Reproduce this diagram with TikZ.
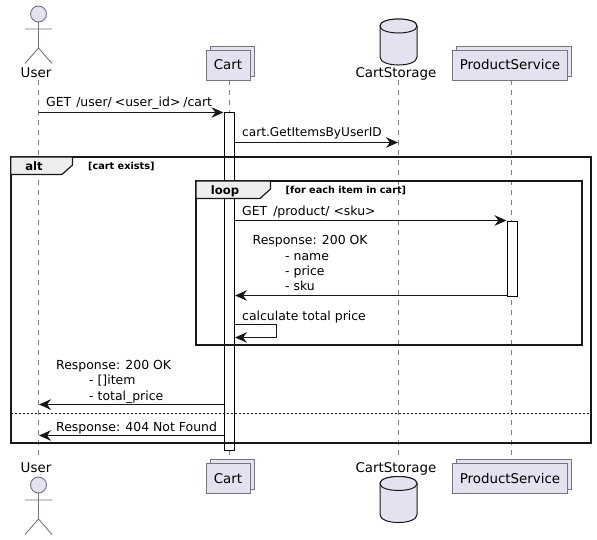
\documentclass[tikz,border=0pt]{standalone}
\usepackage{fontspec}
\setmainfont{DejaVu Sans}
\usetikzlibrary{arrows.meta,positioning}
\definecolor{partfill}{HTML}{E2E2F0}
\definecolor{partline}{HTML}{75757F}
\definecolor{lifegray}{HTML}{808080}
\definecolor{tabfill}{HTML}{EEEEEE}
\definecolor{ink}{HTML}{181818}
\tikzset{
  x=1pt,y=1pt,
  partbox/.style={draw=partline,fill=partfill,line width=.9pt,minimum height=30pt,inner sep=0pt,text=black,font=\fontsize{13.4}{15}\selectfont},
  lifeline/.style={draw=lifegray,line width=.7pt,dash pattern=on 5pt off 5pt},
  activation/.style={draw=black,fill=white,line width=.9pt,minimum width=10pt,inner sep=0pt},
  msg/.style={draw=ink,line width=.9pt,-{Stealth[length=12pt,width=10.5pt,inset=4pt]}},
  framebox/.style={draw=ink,line width=1.9pt},
  tab/.style={draw=ink,fill=tabfill,line width=1.2pt},
  msgtext/.style={anchor=base west,inner sep=0pt,font=\fontsize{12.45}{14}\selectfont},
  nametext/.style={anchor=base,inner sep=0pt,font=\fontsize{13.4}{15}\selectfont},
  guardtext/.style={anchor=base west,inner sep=0pt,font=\fontsize{9.7}{12}\selectfont\bfseries},
  tabtext/.style={anchor=base,inner sep=0pt,font=\fontsize{11.6}{14}\selectfont\bfseries},
  stick/.style={draw=partline,line width=.9pt},
  dbshape/.style={draw=ink,fill=partfill,line width=1pt},
}
\newcommand{\stickman}[1]{%
  \begin{scope}[shift={(38.5,#1)}]
    \draw[stick,fill=partfill] (0,0) circle (8);
    \draw[stick] (0,-8) -- (0,-34) (-13.5,-15) -- (13.5,-15) (-13.5,-49.5) -- (0,-34) -- (13.5,-49.5);
  \end{scope}}
\newcommand{\dbcyl}[1]{%
  \begin{scope}[shift={(398.5,#1)}]
    \draw[dbshape] (-18.5,-11) .. controls (-18.5,-1.7) and (18.5,-1.7) .. (18.5,-11) -- (18.5,-42) .. controls (18.5,-52.7) and (-18.5,-52.7) .. (-18.5,-42) -- cycle;
    \draw[dbshape] (-18.5,-11) .. controls (-18.5,-1.7) and (18.5,-1.7) .. (18.5,-11) .. controls (18.5,-20.3) and (-18.5,-20.3) .. (-18.5,-11);
  \end{scope}}
\begin{document}
\begin{tikzpicture}
\useasboundingbox (0,0) rectangle (597,-540);
\fill[white] (0,0) rectangle (597,-540);

% participant anchors
\coordinate (utop) at (38.5,-80);   \coordinate (ubot) at (38.5,-457);
\coordinate (ctop) at (229.3,-80);  \coordinate (cbot) at (229.3,-460);
\coordinate (stop) at (398.4,-80);  \coordinate (sbot) at (398.4,-457);
\coordinate (ptop) at (511.3,-80);  \coordinate (pbot) at (511.3,-458);

% lifelines
\draw[lifeline] (utop) -- (ubot);
\draw[lifeline] (ctop) -- (cbot);
\draw[lifeline] (stop) -- (sbot);
\draw[lifeline] (ptop) -- (pbot);

% actors, top and bottom
\stickman{-14}
\stickman{-485}
\node[nametext] (userT) at (36,-78) {User};
\node[nametext] (userB) at (36,-472.5) {User};

% databases
\dbcyl{-15}
\dbcyl{-472.5}
\node[nametext] (storeT) at (396,-78) {CartStorage};
\node[nametext] (storeB) at (396,-472.5) {CartStorage};

% collection boxes
\foreach \n/\yy in {T/-61,B/-474.5}{
  \draw[partbox] (210,\yy+15) rectangle (254,\yy-15);
  \node[partbox,minimum width=44pt] (cart\n) at (228,\yy-4+0) {Cart};
  \draw[partbox] (456.5,\yy+15) rectangle (571.5,\yy-15);
  \node[partbox,minimum width=115pt] (prod\n) at (510,\yy-4+0) {ProductService};
}

% activations
\node[activation,minimum height=338pt,anchor=north] (cartbar) at (229.5,-112.3) {};
\node[activation,minimum height=75pt,anchor=north] (prodbar) at (512.6,-220.6) {};

% frames
\draw[framebox] (10.7,-157) rectangle (591,-443.3) coordinate (altbr);
\draw[tab] (10.7,-157) -- (72.5,-157) -- (72.5,-165) -- (62,-174.5) -- (10.7,-174.5) -- cycle;
\node[tabtext] (alttab) at (34,-170.5) {alt};
\node[guardtext] (altguard) at (88,-170) {[cart exists]};
\draw[framebox] (196,-181) rectangle (582,-345.3);
\draw[tab] (196,-181) -- (270.5,-181) -- (270.5,-189) -- (260,-198.5) -- (196,-198.5) -- cycle;
\node[tabtext] (looptab) at (225,-194.5) {loop};
\node[guardtext] (loopguard) at (285.5,-194) {[for each item in cart]};
\coordinate (divL) at (10.7,-413);
\coordinate (divR) at (591,-413);
\draw[ink,line width=.8pt,dash pattern=on 2pt off 2pt] (divL) -- (divR);

% message ends
\coordinate (m1a) at (38.5,-112.5);  \coordinate (m1b) at (223.5,-112.5);
\coordinate (m2a) at (234.5,-142.5); \coordinate (m2b) at (398,-142.5);
\coordinate (m3a) at (234.5,-220.5); \coordinate (m3b) at (506.5,-220.5);
\coordinate (m4a) at (507.5,-295.5); \coordinate (m4b) at (235,-295.5);
\coordinate (m5a) at (234.5,-324.5); \coordinate (m5c) at (276.5,-324.5);
\coordinate (m5d) at (276.5,-337.5); \coordinate (m5b) at (235,-337.5);
\coordinate (m6a) at (224.5,-404.5); \coordinate (m6b) at (39,-404.5);
\coordinate (m7a) at (224.5,-435.5); \coordinate (m7b) at (39,-435.5);

% messages
\draw[msg] (m1a) -- (m1b);
\draw[msg] (m2a) -- (m2b);
\draw[msg] (m3a) -- (m3b);
\draw[msg] (m4a) -- (m4b);
\draw[msg] (m5a) -- (m5c) -- (m5d) -- (m5b);
\draw[msg] (m6a) -- (m6b);
\draw[msg] (m7a) -- (m7b);

% message labels
\node[msgtext] (t1) at (46,-107) {GET \kern1pt/user/\kern3pt<user\_id>\kern3pt/cart};
\node[msgtext,font=\fontsize{12.15}{14}\selectfont] (t2) at (242,-137) {cart.GetItemsByUserID};
\node[msgtext] (t3) at (242,-215) {GET \kern2pt/product/\kern4pt<sku>};
\node[msgtext] (t4a) at (252.5,-244.5) {Response: 200 OK};
\node[msgtext] (t4b) at (285,-260) {- name};
\node[msgtext] (t4c) at (285,-275) {- price};
\node[msgtext] (t4d) at (285,-290.5) {- sku};
\node[msgtext] (t5) at (242,-320) {calculate total price};
\node[msgtext] (t6a) at (56,-369) {Response: 200 OK};
\node[msgtext] (t6b) at (89,-384.5) {- []item};
\node[msgtext] (t6c) at (89,-400) {- total\_price};
\node[msgtext] (t7) at (56,-431) {Response: 404 Not Found};
\end{tikzpicture}
\end{document}
